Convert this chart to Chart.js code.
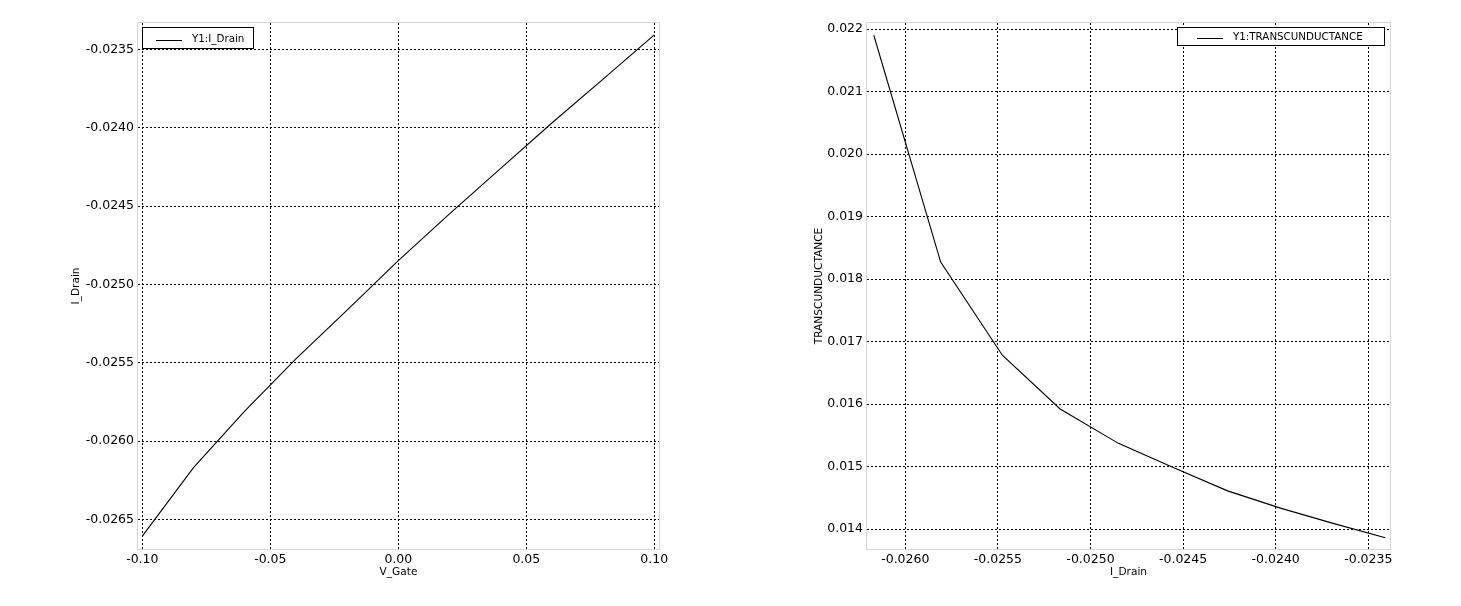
<!DOCTYPE html>
<html>
<head>
<meta charset="utf-8">
<script src="https://cdn.jsdelivr.net/npm/chart.js@4/dist/chart.umd.min.js"></script>
<style>
    body { margin: 0; background: #fff; }
    #left { position: absolute; left: 0; top: 0; width: 730px; height: 606px; }
    #right { position: absolute; left: 730px; top: 0; width: 731px; height: 606px; }
</style>
</head>
<body>
<div id="left"><canvas id="iv-chart"></canvas></div>
<div id="right"><canvas id="gm-chart"></canvas></div>
<script>
// left plot: I_Drain vs V_Gate
const vGate = [-0.10, -0.08, -0.06, -0.04, -0.02, 0.00, 0.02, 0.04, 0.06, 0.08, 0.10];
const iDrain = [
    -0.026607, -0.02617, -0.025809, -0.025476, -0.025164, -0.024849,
    -0.02455, -0.02426, -0.02397, -0.02369, -0.023408,
];
const vGateTicks = [-0.10, -0.05, 0.00, 0.05, 0.10];
const iDrainTicks = [-0.0235, -0.0240, -0.0245, -0.0250, -0.0255, -0.0260, -0.0265];

// right plot: TRANSCUNDUCTANCE vs I_Drain
const gmCurrent = [
    -0.02617, -0.025809, -0.025476, -0.025164, -0.024849,
    -0.02455, -0.02426, -0.02397, -0.02369, -0.023408,
];
const transconductance = [
    0.02190, 0.01827, 0.01678, 0.01592, 0.01537,
    0.01498, 0.01461, 0.01433, 0.01409, 0.01386,
];
const gmCurrentTicks = [-0.0260, -0.0255, -0.0250, -0.0245, -0.0240, -0.0235];
const gmTicks = [0.014, 0.015, 0.016, 0.017, 0.018, 0.019, 0.020, 0.021, 0.022];

const FONT = "'DejaVu Sans', sans-serif";
Chart.defaults.font.family = FONT;
Chart.defaults.color = "#000";

const toPoints = (xs, ys) => xs.map((x, i) => ({ x: x, y: ys[i] }));

// light frame round the plot area + boxed legend inside it
const framePlugin = {
    id: "frame",
    afterDraw(chart, args, opts) {
        const { ctx, chartArea: a } = chart;
        ctx.save();
        ctx.strokeStyle = "#d6d6d6";
        ctx.lineWidth = 1;
        ctx.setLineDash([]);
        ctx.strokeRect(a.left - 0.5, a.top - 0.5, a.right - a.left + 1, a.bottom - a.top + 1);

        const b = opts.box;
        const ds = chart.data.datasets[0];
        ctx.fillStyle = "#fff";
        ctx.fillRect(b.x, b.y, b.w, b.h);
        ctx.strokeStyle = "#000";
        ctx.strokeRect(b.x + 0.5, b.y + 0.5, b.w, b.h);
        const cy = b.y + b.h / 2;
        ctx.beginPath();
        ctx.moveTo(b.x + b.lineX, Math.round(cy + 2) + 0.5);
        ctx.lineTo(b.x + b.lineX + 26, Math.round(cy + 2) + 0.5);
        ctx.stroke();
        ctx.fillStyle = "#000";
        ctx.font = "10.3px " + FONT;
        ctx.textBaseline = "middle";
        ctx.fillText(ds.label, b.x + b.lineX + 36, cy + 1.5);
        ctx.restore();
    },
};

function fixWidth(w) {
    return (s) => { s.width = w; s.paddingTop = 0; s.paddingBottom = 0; };
}
function fixHeight(h) {
    return (s) => { s.height = h; s.paddingLeft = 0; s.paddingRight = 0; };
}
function useTicks(list) {
    return (s) => { s.ticks = list.map((v) => ({ value: v })); };
}

function makeChart(el, cfg) {
    return new Chart(el, {
        type: "line",
        data: {
            datasets: [
                {
                    label: cfg.legend,
                    data: cfg.points,
                    borderColor: "#000",
                    borderWidth: 1.1,
                    pointRadius: 0,
                    tension: 0,
                },
            ],
        },
        options: {
            responsive: true,
            maintainAspectRatio: false,
            animation: false,
            layout: { padding: { top: 23, right: 71, left: 0, bottom: 0 } },
            plugins: {
                legend: { display: false },
                tooltip: { enabled: false },
                frame: { box: cfg.box },
            },
            scales: {
                x: {
                    type: "linear",
                    min: cfg.xMin,
                    max: cfg.xMax,
                    afterBuildTicks: useTicks(cfg.xTicks),
                    afterFit: fixHeight(57),
                    grid: { color: "#000", lineWidth: 1, drawTicks: false },
                    border: { display: false, dash: [2, 2] },
                    ticks: {
                        padding: 3,
                        maxRotation: 0,
                        autoSkip: false,
                        font: { size: 12.5 },
                        callback: (v) => v.toFixed(cfg.xDec),
                    },
                    title: {
                        display: true,
                        text: cfg.xTitle,
                        font: { size: 10.6 },
                        padding: { top: 0, bottom: 27 },
                    },
                },
                y: {
                    type: "linear",
                    min: cfg.yMin,
                    max: cfg.yMax,
                    afterBuildTicks: useTicks(cfg.yTicks),
                    afterFit: fixWidth(cfg.yWidth),
                    grid: { color: "#000", lineWidth: 1, drawTicks: false },
                    border: { display: false, dash: [2, 2] },
                    ticks: {
                        padding: 4,
                        autoSkip: false,
                        font: { size: 12.5 },
                        callback: (v) => v.toFixed(cfg.yDec),
                    },
                    title: {
                        display: true,
                        text: cfg.yTitle,
                        font: { size: 10.6 },
                        padding: { top: cfg.yTitlePad, bottom: 0 },
                    },
                },
            },
        },
        plugins: [framePlugin],
    });
}

let chart1 = makeChart(document.getElementById("iv-chart"), {
    legend: "Y1:I_Drain",
    points: toPoints(vGate, iDrain),
    xMin: -0.10168, xMax: 0.10184, xTicks: vGateTicks, xDec: 2, xTitle: "V_Gate",
    yMin: -0.026689, yMax: -0.023332, yTicks: iDrainTicks, yDec: 4, yTitle: "I_Drain",
    yWidth: 138, yTitlePad: 70,
    box: { x: 142, y: 27, w: 111, h: 21, lineX: 14 },
});

let chart2 = makeChart(document.getElementById("gm-chart"), {
    legend: "Y1:TRANSCUNDUCTANCE",
    points: toPoints(gmCurrent, transconductance),
    xMin: -0.0262068, xMax: -0.0233828, xTicks: gmCurrentTicks, xDec: 4, xTitle: "I_Drain",
    yMin: 0.01368, yMax: 0.022096, yTicks: gmTicks, yDec: 3, yTitle: "TRANSCUNDUCTANCE",
    yWidth: 137, yTitlePad: 82.6,
    box: { x: 447, y: 27, w: 207, h: 18, lineX: 20 },
});
</script>
</body>
</html>
